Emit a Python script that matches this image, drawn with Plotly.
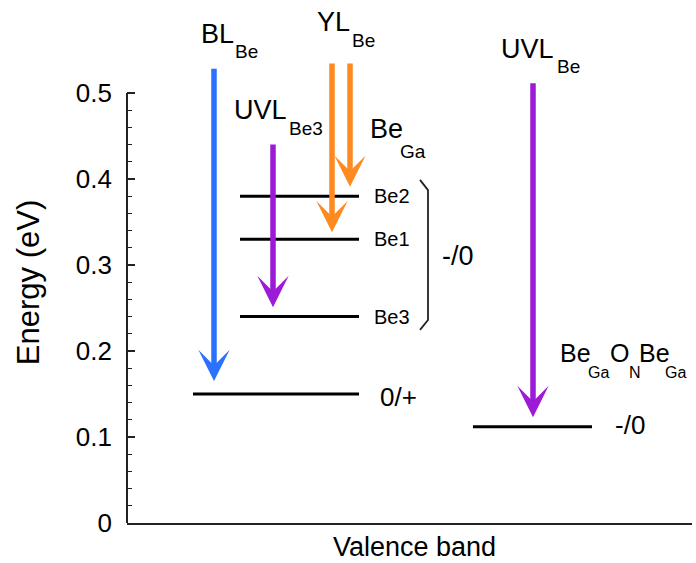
import plotly.graph_objects as go

# ---- data ----
level_names = ["0/+", "Be2", "Be1", "Be3", "-/0"]
level_energy = [0.150, 0.380, 0.330, 0.240, 0.112]
level_x0 = [0.66, 1.13, 1.13, 1.13, 3.46]
level_x1 = [2.32, 2.32, 2.32, 2.32, 4.65]

arrow_names = ["BL_Be", "UVL_Be3", "YL_Be (1)", "YL_Be (2)", "UVL_Be"]
arrow_x = [0.87, 1.46, 2.05, 2.23, 4.06]
arrow_from = [0.530, 0.442, 0.536, 0.536, 0.513]
arrow_to = [0.165, 0.251, 0.338, 0.391, 0.123]
arrow_colors = ["#2B70FF", "#9B1BD6", "#FF8A1F", "#FF8A1F", "#9B1BD6"]

major_ticks = [0, 0.1, 0.2, 0.3, 0.4, 0.5]
major_labels = ["0", "0.1", "0.2", "0.3", "0.4", "0.5"]
minor_ticks = [round(i * 0.02, 2) for i in range(26) if i % 5 != 0]

bracket_x = [2.93, 3.01, 3.01, 2.93]
bracket_y = [0.399, 0.387, 0.236, 0.2245]

# text labels: (text, x_left, y_center, size)
labels = [
    ("BL", 0.72, 0.5686, 27), ("Be", 1.06, 0.5483, 19),
    ("YL", 1.88, 0.5826, 27), ("Be", 2.23, 0.5605, 19),
    ("UVL", 1.05, 0.4808, 27), ("Be3", 1.60, 0.4587, 19),
    ("Be", 2.41, 0.4581, 27), ("Ga", 2.71, 0.4320, 19),
    ("UVL", 3.72, 0.5517, 27), ("Be", 4.28, 0.5314, 19),
    ("Be", 4.31, 0.1977, 25), ("Ga", 4.59, 0.1750, 16),
    ("O", 4.81, 0.1977, 25), ("N", 5.00, 0.1750, 16),
    ("Be", 5.10, 0.1977, 25), ("Ga", 5.36, 0.1750, 16),
    ("Be2", 2.45, 0.380, 20), ("Be1", 2.45, 0.330, 20), ("Be3", 2.45, 0.240, 20),
    ("0/+", 2.51, 0.1465, 26), ("-/0", 3.13, 0.3105, 27), ("-/0", 4.86, 0.114, 26),
]

FONT = "Liberation Sans, Arial, sans-serif"

fig = go.Figure()

# energy levels
lx, ly = [], []
for x0, x1, e in zip(level_x0, level_x1, level_energy):
    lx += [x0, x1, None]
    ly += [e, e, None]
fig.add_trace(go.Scatter(x=lx, y=ly, mode="lines", line=dict(color="black", width=3),
                         hoverinfo="skip", showlegend=False))

# bracket
fig.add_trace(go.Scatter(x=bracket_x, y=bracket_y, mode="lines",
                         line=dict(color="#222", width=1.8), hoverinfo="skip", showlegend=False))

# arrows
for x, e0, e1, c in zip(arrow_x, arrow_from, arrow_to, arrow_colors):
    fig.add_annotation(x=x, y=e1, ax=x, ay=e0, xref="x", yref="y", axref="x", ayref="y",
                       text="", showarrow=True, arrowhead=3, arrowsize=0.95, arrowwidth=5.5,
                       arrowcolor=c, standoff=0)

for t, x, y, s in labels:
    fig.add_annotation(x=x, y=y, xref="x", yref="y", text=t, showarrow=False,
                       xanchor="left", yanchor="middle",
                       font=dict(family=FONT, size=s, color="black"))

# y axis title and x label
fig.add_annotation(x=-0.175, y=0.279, xref="paper", yref="y", text="Energy (eV)", textangle=-90,
                   showarrow=False, xanchor="center", yanchor="middle",
                   font=dict(family=FONT, size=31, color="black"))
fig.add_annotation(x=2.87, y=-0.045, xref="x", yref="paper", text="Valence band",
                   showarrow=False, xanchor="center", yanchor="middle",
                   font=dict(family=FONT, size=27, color="black"))

# custom y axis line (stops at 0.5)
fig.add_shape(type="line", xref="paper", yref="y", x0=0, x1=0, y0=0, y1=0.5,
              line=dict(color="#222", width=2))

fig.update_layout(
    width=696, height=563, margin=dict(l=127, r=4, t=0, b=40),
    paper_bgcolor="white", plot_bgcolor="white",
    font=dict(family=FONT, color="black"),
    xaxis=dict(range=[0, 5.65], showgrid=False, zeroline=False, showticklabels=False,
               ticks="", showline=True, linecolor="#222", linewidth=2),
    yaxis=dict(range=[0, 523 / 860], showgrid=False, zeroline=False, showline=False,
               tickmode="array", tickvals=major_ticks, ticktext=major_labels,
               ticks="inside", ticklen=8, tickwidth=1.5, tickcolor="#222",
               ticklabelstandoff=14, tickfont=dict(family=FONT, size=26, color="black"),
               minor=dict(tickmode="array", tickvals=minor_ticks, ticks="inside",
                          ticklen=5, tickwidth=1.2, tickcolor="#222")),
)

fig.write_html("out.html")
